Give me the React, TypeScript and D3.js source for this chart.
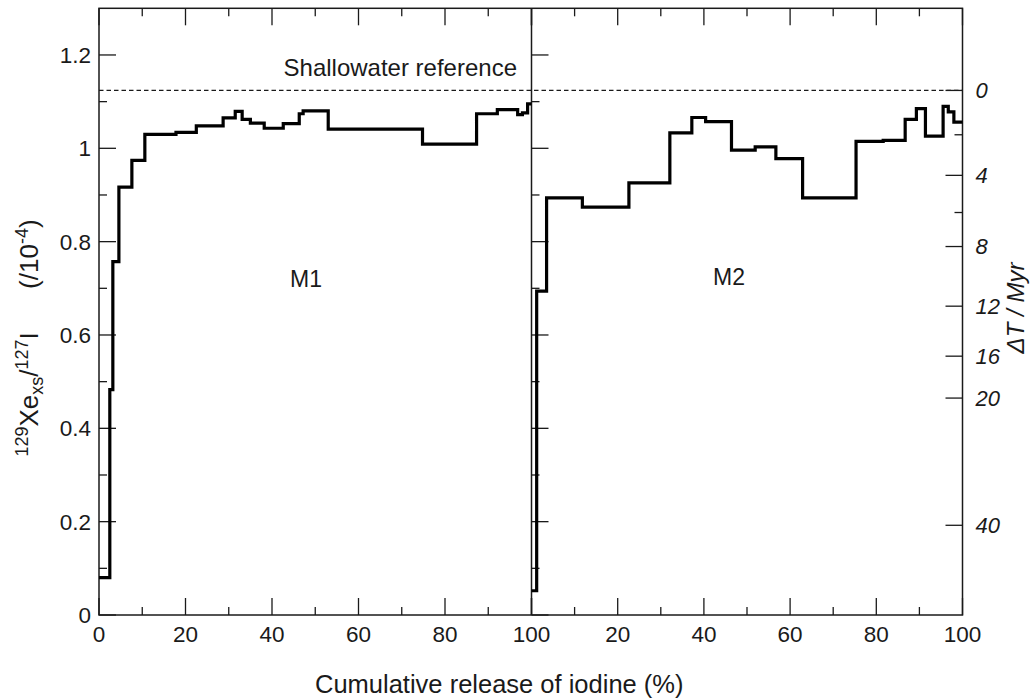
import React from "react";
import * as d3 from "d3";

// step edges (% cumulative iodine release) and 129Xe/127I ratio per step (x1e-4)
const m1Edges = [0, 2.5, 3.2, 4.6, 7.6, 10.6, 17.8, 22.5, 28.7, 31.5, 33.1, 35.0, 38.2, 42.6, 46.3, 47.2, 53.0, 74.8, 87.3, 92.1, 96.8, 97.9, 99.1, 100];
const m1Ratio = [0.08, 0.483, 0.757, 0.917, 0.974, 1.03, 1.034, 1.048, 1.065, 1.079, 1.062, 1.054, 1.043, 1.053, 1.074, 1.08, 1.041, 1.009, 1.074, 1.083, 1.072, 1.076, 1.095];

const m2Edges = [0, 1.2, 3.5, 11.8, 22.6, 32.1, 37.2, 40.4, 46.4, 51.9, 56.7, 62.9, 75.3, 81.6, 86.7, 89.3, 91.4, 95.5, 96.7, 98.0, 100];
const m2Ratio = [0.052, 0.694, 0.894, 0.874, 0.926, 1.033, 1.066, 1.057, 0.996, 1.003, 0.978, 0.894, 1.015, 1.017, 1.062, 1.085, 1.026, 1.09, 1.078, 1.056];

const releaseMajor = [0, 20, 40, 60, 80, 100];
const releaseMinor = [10, 30, 50, 70, 90];
const ratioMajor = [0, 0.2, 0.4, 0.6, 0.8, 1.0, 1.2];
const ratioMinor = [0.1, 0.3, 0.5, 0.7, 0.9, 1.1];
const ratioLabels = ["0", "0.2", "0.4", "0.6", "0.8", "1", "1.2"];
const deltaTMajor = [0, 4, 8, 12, 16, 20, 40];
const deltaTMinor = [2, 6];

const shallowater = 1.124;
const halfLifeI129 = 15.7; // Myr

const W = 1036;
const H = 700;
const ink = "#1a1a1a";
const font = "'Liberation Sans', Arial, Helvetica, sans-serif";

const y = d3.scaleLinear().domain([0, 1.3]).range([615, 8.3]);
const xL = d3.scaleLinear().domain([0, 100]).range([99, 531.5]);
const xR = d3.scaleLinear().domain([0, 100]).range([531.5, 962.5]);

const tau = halfLifeI129 / Math.LN2;
const dtToRatio = (dt: number) => shallowater * Math.exp(-dt / tau);

const stepPath = (x: d3.ScaleLinear<number, number>, edges: number[], vals: number[]) => {
  const pts: [number, number][] = vals.map((v, i) => [edges[i], v]);
  pts.push([edges[edges.length - 1], vals[vals.length - 1]]);
  return d3
    .line<[number, number]>()
    .x((d) => x(d[0]))
    .y((d) => y(d[1]))
    .curve(d3.curveStepAfter)(pts) as string;
};

const MAJ = 17;
const MIN = 8;

export default function App() {
  const x0 = xL.range()[0];
  const xMid = xL.range()[1];
  const x1 = xR.range()[1];
  const yBot = y.range()[0];
  const yTop = y.range()[1];

  const xTicks = (x: d3.ScaleLinear<number, number>, key: string) => (
    <g key={key}>
      {releaseMajor.map((t) => (
        <g key={"M" + t}>
          <line x1={x(t)} x2={x(t)} y1={yBot} y2={yBot - MAJ} stroke={ink} strokeWidth={1.3} />
          <line x1={x(t)} x2={x(t)} y1={yTop} y2={yTop + MAJ} stroke={ink} strokeWidth={1.3} />
        </g>
      ))}
      {releaseMinor.map((t) => (
        <g key={"m" + t}>
          <line x1={x(t)} x2={x(t)} y1={yBot} y2={yBot - MIN} stroke={ink} strokeWidth={1.3} />
          <line x1={x(t)} x2={x(t)} y1={yTop} y2={yTop + MIN} stroke={ink} strokeWidth={1.3} />
        </g>
      ))}
    </g>
  );

  const yTicks = (xa: number, key: string) => (
    <g key={key}>
      {ratioMajor.map((t) => (
        <line key={"M" + t} x1={xa} x2={xa + MAJ} y1={y(t)} y2={y(t)} stroke={ink} strokeWidth={1.3} />
      ))}
      {ratioMinor.map((t) => (
        <line key={"m" + t} x1={xa} x2={xa + MIN} y1={y(t)} y2={y(t)} stroke={ink} strokeWidth={1.3} />
      ))}
    </g>
  );

  return (
    <svg
      width={W}
      height={H}
      viewBox={`0 0 ${W} ${H}`}
      style={{ position: "absolute", left: 0, top: 0, background: "#fff" }}
      fontFamily={font}
    >
      <rect x={0} y={0} width={W} height={H} fill="#fff" />

      {/* frame */}
      <rect x={x0} y={yTop} width={x1 - x0} height={yBot - yTop} fill="none" stroke={ink} strokeWidth={1.5} />
      <line x1={xMid} x2={xMid} y1={yTop} y2={yBot} stroke={ink} strokeWidth={1.5} />

      {xTicks(xL, "xl")}
      {xTicks(xR, "xr")}
      {yTicks(x0, "yl")}
      {yTicks(xMid, "ym")}

      {/* right-hand ΔT axis */}
      {deltaTMajor.map((t) => (
        <g key={"dt" + t}>
          <line x1={x1} x2={x1 - MAJ} y1={y(dtToRatio(t))} y2={y(dtToRatio(t))} stroke={ink} strokeWidth={1.3} />
          <text x={x1 + 13} y={y(dtToRatio(t))} dy="0.36em" fontSize={22} fontStyle="italic" fill={ink}>
            {t}
          </text>
        </g>
      ))}
      {deltaTMinor.map((t) => (
        <line key={"dtm" + t} x1={x1} x2={x1 - MIN} y1={y(dtToRatio(t))} y2={y(dtToRatio(t))} stroke={ink} strokeWidth={1.3} />
      ))}

      {/* reference line */}
      <line
        x1={x0}
        x2={x1}
        y1={y(shallowater)}
        y2={y(shallowater)}
        stroke={ink}
        strokeWidth={1.3}
        strokeDasharray="4.5,3"
      />
      <text x={517} y={y(shallowater) - 14} textAnchor="end" fontSize={24} fill={ink}>
        Shallowater reference
      </text>

      {/* step data */}
      <path d={stepPath(xL, m1Edges, m1Ratio)} fill="none" stroke="#000" strokeWidth={3.2} />
      <path d={stepPath(xR, m2Edges, m2Ratio)} fill="none" stroke="#000" strokeWidth={3.2} />

      {/* y tick labels */}
      {ratioMajor.map((t, i) => (
        <text key={"yl" + t} x={x0 - 8} y={y(t)} dy="0.36em" textAnchor="end" fontSize={22.5} fill={ink}>
          {ratioLabels[i]}
        </text>
      ))}

      {/* x tick labels */}
      {releaseMajor.map((t) => (
        <text key={"xl" + t} x={xL(t)} y={yBot + 27} textAnchor="middle" fontSize={22.5} fill={ink}>
          {t}
        </text>
      ))}
      {releaseMajor.slice(1).map((t) => (
        <text key={"xr" + t} x={xR(t)} y={yBot + 27} textAnchor="middle" fontSize={22.5} fill={ink}>
          {t}
        </text>
      ))}

      <text x={306} y={287} textAnchor="middle" fontSize={23} fill={ink}>M1</text>
      <text x={729} y={285} textAnchor="middle" fontSize={23} fill={ink}>M2</text>

      {/* axis titles */}
      <text x={315} y={693} textAnchor="start" fontSize={25.5} fill={ink}>
        Cumulative release of iodine (%)
      </text>

      <text transform="translate(38,338) rotate(-90)" textAnchor="middle" fontSize={26} fill={ink}>
        <tspan fontSize={18} baselineShift="55%">129</tspan>
        <tspan>Xe</tspan>
        <tspan fontSize={18} baselineShift="-25%">xs</tspan>
        <tspan>/</tspan>
        <tspan fontSize={18} baselineShift="55%">127</tspan>
        <tspan>I{"\u00a0\u00a0\u00a0\u00a0\u00a0\u00a0"}(/10</tspan>
        <tspan fontSize={18} baselineShift="55%">-4</tspan>
        <tspan>)</tspan>
      </text>

      <text transform="translate(1024,308) rotate(-90)" textAnchor="middle" fontSize={24} fontStyle="italic" fill={ink}>
        {"\u0394T / Myr"}
      </text>
    </svg>
  );
}
